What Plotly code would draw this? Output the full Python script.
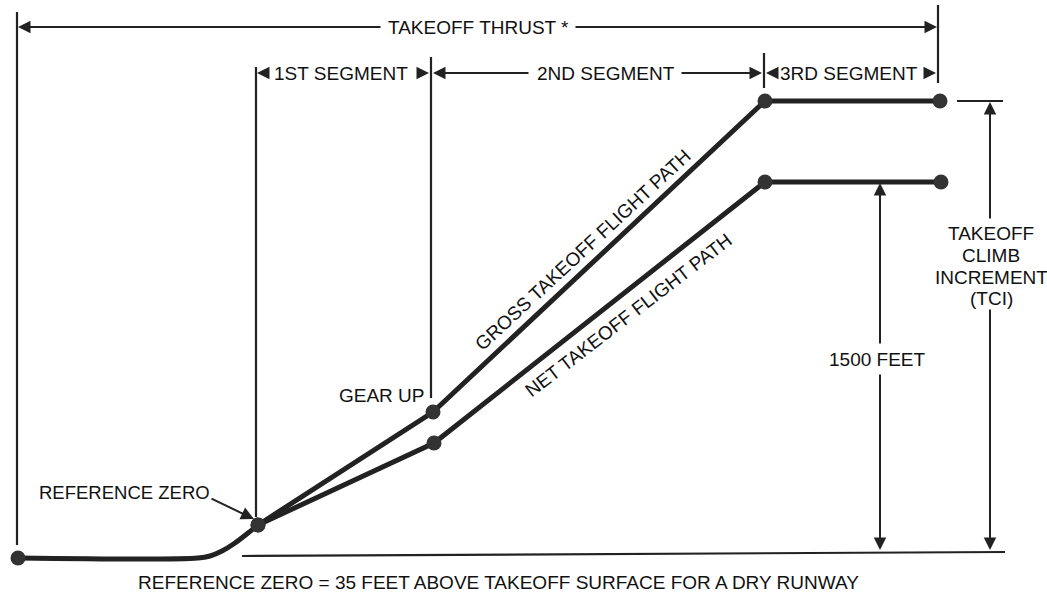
import plotly.graph_objects as go

# ---- Diagram data (diagram units: x to the right, y downward as in the drawing) ----
ground_x = [18, 198, 210, 222, 235, 248, 258]
ground_y = [558, 558, 556, 551, 543, 533, 525]

gross_x = [258, 433, 765, 940]
gross_y = [525, 412, 101, 101]

net_x = [258, 434, 765, 941]
net_y = [525, 443, 182, 182]

start_pt = (18, 558)

# vertical marker lines: (x, y_top, y_bottom)
verticals = [(17, 12, 545), (256, 67, 517), (431, 57, 398), (764, 53, 88), (938, 5, 83)]

baseline_x = [242, 1005]
baseline_y = [556, 552]

tci_lines = ["TAKEOFF", "CLIMB", "INCREMENT", "(TCI)"]
tci_line_y = [233, 255, 277, 298]

INK = "#222222"
FONT = dict(family="Liberation Sans, Arial, sans-serif", size=19, color="#111111")

fig = go.Figure()

# ground roll to reference zero
fig.add_trace(go.Scatter(x=ground_x, y=ground_y, mode="lines",
                         line=dict(color=INK, width=5, shape="spline"), hoverinfo="skip"))
# gross and net flight paths
fig.add_trace(go.Scatter(x=gross_x, y=gross_y, mode="lines+markers",
                         line=dict(color=INK, width=5),
                         marker=dict(size=15, color="#333333"), hoverinfo="skip"))
fig.add_trace(go.Scatter(x=net_x, y=net_y, mode="lines+markers",
                         line=dict(color=INK, width=5),
                         marker=dict(size=15, color="#333333"), hoverinfo="skip"))
fig.add_trace(go.Scatter(x=[start_pt[0]], y=[start_pt[1]], mode="markers",
                         marker=dict(size=15, color="#333333"), hoverinfo="skip"))

# vertical boundary lines
for vx, vt, vb in verticals:
    fig.add_shape(type="line", x0=vx, x1=vx, y0=vt, y1=vb,
                  line=dict(color=INK, width=2.2))

# baseline (takeoff surface reference)
fig.add_shape(type="line", x0=baseline_x[0], x1=baseline_x[1], y0=baseline_y[0], y1=baseline_y[1],
              line=dict(color=INK, width=2.2))
# TCI top tick
fig.add_shape(type="line", x0=957, x1=1003, y0=101, y1=101, line=dict(color=INK, width=2.2))


def arrow(tip, tail, head=2, size=1.25, width=2):
    fig.add_annotation(x=tip[0], y=tip[1], ax=tail[0], ay=tail[1],
                       xref="x", yref="y", axref="x", ayref="y",
                       text="", showarrow=True, arrowhead=head, arrowsize=size,
                       arrowwidth=width, arrowcolor=INK)


def label(x, y, text, angle=0, size=19):
    f = dict(FONT)
    f["size"] = size
    fig.add_annotation(x=x, y=y, xref="x", yref="y", text=text, showarrow=False,
                       font=f, textangle=angle, align="center")


# TAKEOFF THRUST row
label(478, 27, "TAKEOFF THRUST *")
arrow((18, 27), (382, 27))
arrow((937, 27), (574, 27))

# segment row
label(341, 73, "1ST SEGMENT")
arrow((257, 73), (269, 73))
arrow((429, 73), (416, 73))
label(606, 73, "2ND SEGMENT")
arrow((433, 73), (530, 73))
arrow((762, 73), (680, 73))
label(849, 73, "3RD SEGMENT")
arrow((766, 73), (777, 73))
arrow((936, 73), (923, 73))

# 1500 FEET dimension
label(877, 359, "1500 FEET")
arrow((880, 183), (880, 345))
arrow((880, 550), (880, 373))

# TCI dimension
for txt, ty in zip(tci_lines, tci_line_y):
    label(991, ty, txt)
arrow((990, 102), (990, 220))
arrow((990, 550), (990, 308))

# other labels
label(124, 492, "REFERENCE ZERO", size=18.5)
arrow((254, 519), (210, 498), size=1.3)
label(382, 395, "GEAR UP")
label(582, 250, "GROSS TAKEOFF FLIGHT PATH", angle=-42.8)
label(628, 315, "NET TAKEOFF FLIGHT PATH", angle=-37.5)
label(498, 582, "REFERENCE ZERO = 35 FEET ABOVE TAKEOFF SURFACE FOR A DRY RUNWAY")

fig.update_layout(
    width=1047, height=594,
    margin=dict(l=0, r=0, t=0, b=0),
    paper_bgcolor="white", plot_bgcolor="white",
    showlegend=False,
    xaxis=dict(range=[0, 1047], visible=False, fixedrange=True),
    yaxis=dict(range=[594, 0], visible=False, fixedrange=True),
)

fig.write_html("out.html", config={"displayModeBar": False},
               post_script="document.body.style.margin='0';document.body.style.overflow='hidden';")
